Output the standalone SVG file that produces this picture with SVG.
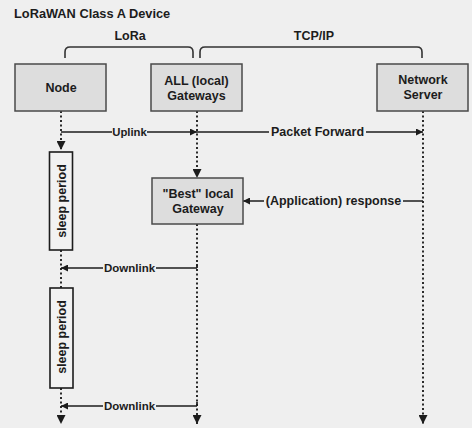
<svg xmlns="http://www.w3.org/2000/svg" width="472" height="428" viewBox="0 0 472 428">
<defs>
<style>
.t{font-family:"Liberation Sans",Arial,sans-serif;font-weight:bold;fill:#1c1c1c;font-size:12.5px}
.c{text-anchor:middle}
.box{fill:#dddddd;stroke:#4a4a4a;stroke-width:1.5}
.life{stroke:#2a2a2a;stroke-width:2;stroke-dasharray:2,2.5;fill:none}
.ln{stroke:#1c1c1c;stroke-width:1.7;fill:none}
.br{stroke:#333;stroke-width:1.6;fill:none}
.bg{fill:#efefef}
</style>
<marker id="ah" viewBox="0 0 10 10" refX="10" refY="5" markerWidth="7" markerHeight="7" markerUnits="userSpaceOnUse" orient="auto">
<path d="M0,0 L10,5 L0,10 z" fill="#1c1c1c"/>
</marker>
<marker id="dh" viewBox="0 0 10 10" refX="10" refY="5" markerWidth="9" markerHeight="9" markerUnits="userSpaceOnUse" orient="auto">
<path d="M0,0 L10,5 L0,10 z" fill="#1c1c1c"/>
</marker>
</defs>
<rect width="472" height="428" fill="#efefef"/>
<text class="t" x="14" y="18" style="font-size:12.8px">LoRaWAN Class A Device</text>
<g id="brace-lora">
<path class="br" d="M65,58 L65,52 Q65,47 70,47 L188,47 Q193,47 193,52 L193,58"/>
<text class="t c" x="130" y="40">LoRa</text>
</g>
<g id="brace-tcpip">
<path class="br" d="M200,58 L200,52 Q200,47 205,47 L417,47 Q422,47 422,52 L422,58"/>
<text class="t c" x="314" y="40">TCP/IP</text>
</g>
<g id="connectors">
<path class="life" d="M61,111 V150" marker-end="url(#dh)"/>
<path class="life" d="M61,250 V288"/>
<path class="life" d="M61,388 V424" marker-end="url(#dh)"/>
<path class="life" d="M197,111 V178" marker-end="url(#dh)"/>
<path class="life" d="M197,224 V424" marker-end="url(#dh)"/>
<path class="life" d="M423,111 V424" marker-end="url(#dh)"/>
<g id="uplink">
<path class="ln" d="M61,132 H197" marker-end="url(#ah)"/>
<rect class="bg" x="112" y="125" width="35" height="14"/>
<text class="t c" x="129.5" y="136" style="font-size:11.3px">Uplink</text>
</g>
<g id="packet-forward">
<path class="ln" d="M197,132 H423" marker-end="url(#ah)"/>
<rect class="bg" x="269" y="125" width="97" height="14"/>
<text class="t c" x="317.5" y="136">Packet Forward</text>
</g>
<g id="response">
<path class="ln" d="M423,201 H243" marker-end="url(#ah)"/>
<rect class="bg" x="264" y="193" width="139" height="15"/>
<text class="t c" x="333.5" y="205">(Application) response</text>
</g>
<g id="downlink1">
<path class="ln" d="M197,268 H61" marker-end="url(#ah)"/>
<path class="ln" d="M197,264 V268"/>
<rect class="bg" x="103" y="261" width="53" height="14"/>
<text class="t c" x="129.5" y="272" style="font-size:11.5px">Downlink</text>
</g>
<g id="downlink2">
<path class="ln" d="M197,406 H61" marker-end="url(#ah)"/>
<path class="ln" d="M197,402 V406"/>
<rect class="bg" x="103" y="399" width="53" height="14"/>
<text class="t c" x="129.5" y="410" style="font-size:11.5px">Downlink</text>
</g>
</g>
<g id="node">
<rect class="box" x="15" y="64" width="91" height="47"/>
<text class="t c" x="61" y="92">Node</text>
</g>
<g id="all-gateways">
<rect class="box" x="151" y="64" width="91" height="47"/>
<text class="t c" x="196.5" y="85">ALL (local)</text>
<text class="t c" x="196.5" y="100">Gateways</text>
</g>
<g id="network-server">
<rect class="box" x="377" y="64" width="91" height="47"/>
<text class="t c" x="423" y="84">Network</text>
<text class="t c" x="423" y="99">Server</text>
</g>
<g id="best-gateway">
<rect class="box" x="152" y="178" width="91" height="46"/>
<text class="t c" x="198" y="198">"Best" local</text>
<text class="t c" x="198" y="213">Gateway</text>
</g>
<g id="sleep1">
<rect x="49.5" y="152" width="23" height="98" fill="#f2f2f2" stroke="#1c1c1c" stroke-width="1.6"/>
<text class="t c" transform="translate(65.5,201) rotate(-90)">sleep period</text>
</g>
<g id="sleep2">
<rect x="50" y="288" width="23" height="100" fill="#f2f2f2" stroke="#1c1c1c" stroke-width="1.6"/>
<text class="t c" transform="translate(66,337) rotate(-90)">sleep period</text>
</g>
</svg>
